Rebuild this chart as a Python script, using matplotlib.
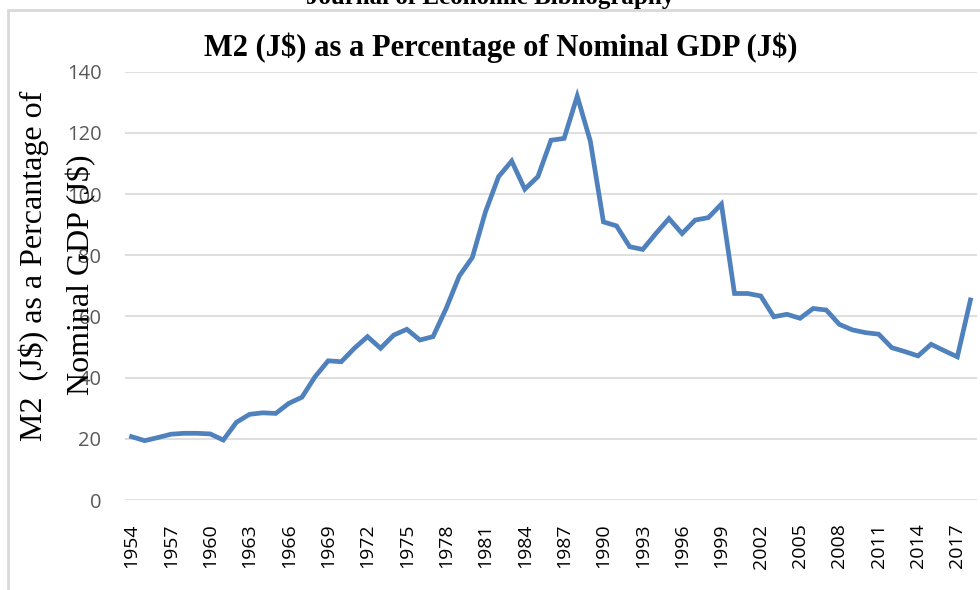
import numpy as np
import matplotlib.pyplot as plt
from matplotlib.patches import Rectangle

# M2 as % of nominal GDP, Jamaica
years = list(range(1954, 2019))
m2_pct = [20.7, 19.4, 20.4, 21.5, 21.8, 21.8, 21.6, 19.6, 25.4, 28.0,
          28.5, 28.3, 31.6, 33.6, 40.3, 45.5, 45.2, 49.6, 53.4, 49.6,
          53.9, 55.8, 52.3, 53.4, 62.6, 73.2, 79.3, 94.2, 105.7, 110.8,
          101.6, 105.7, 117.6, 118.2, 132.0, 117.3, 90.9, 89.6, 82.8, 81.9,
          87.1, 92.0, 87.1, 91.5, 92.3, 96.7, 67.5, 67.5, 66.7, 59.9,
          60.7, 59.4, 62.6, 62.1, 57.4, 55.6, 54.7, 54.2, 49.8, 48.5,
          47.1, 50.9, 48.8, 46.8, 65.4]
yticks = [0, 20, 40, 60, 80, 100, 120, 140]

fig = plt.figure(figsize=(9.8, 5.9), dpi=100)
ax = fig.add_axes([125/980, 1 - 500/590, 852/980, (500 - 71.7)/590])

x = np.arange(len(years))
ax.plot(x, m2_pct, color='#4F81BD', linewidth=3.4, solid_joinstyle='miter', zorder=3)

ax.set_xlim(-0.5, len(years) - 0.5)
ax.set_ylim(0, 140)
ax.set_yticks(yticks)
ax.set_yticklabels([str(v) for v in yticks], fontsize=14.5, color='#595959', family='Open Sans')
ax.set_xticks(x[::3])
ax.set_xticklabels([str(y) for y in years[::3]], rotation=90, fontsize=14,
                   color='black', family='Open Sans')
ax.tick_params(axis='y', length=0, pad=17)
ax.tick_params(axis='x', length=0, pad=17)
ax.grid(axis='y', color='#D9D9D9', linewidth=1.2)
for s in ax.spines.values():
    s.set_visible(False)

fig.text(0.511, 1 - 48/590, r'M2 (J\$) as a Percentage of Nominal GDP (J\$)',
         ha='center', va='center', fontsize=22, fontweight='bold', family='Liberation Serif')
fig.text(0.5, 1 - 4/590, 'Journal of Economic Bibliography', ha='center', va='baseline',
         fontsize=18, fontweight='bold', family='Liberation Serif')

# two-line y label overlapping the tick labels, as in the source
fig.text(34/980, 1 - 266/590, r'M2  (J\$) as a Percantage of', rotation=90,
         ha='center', va='center', fontsize=23, family='Liberation Serif')
fig.text(81/980, 1 - 275/590, r'Nominal GDP (J\$)', rotation=90,
         ha='center', va='center', fontsize=23, family='Liberation Serif')

fig.patches.append(Rectangle((8/980, -0.05), 1.2, 0.05 + 1 - 10/590, transform=fig.transFigure,
                             fill=False, edgecolor='#D9D9D9', linewidth=2))

plt.savefig('out.png', format='png')
